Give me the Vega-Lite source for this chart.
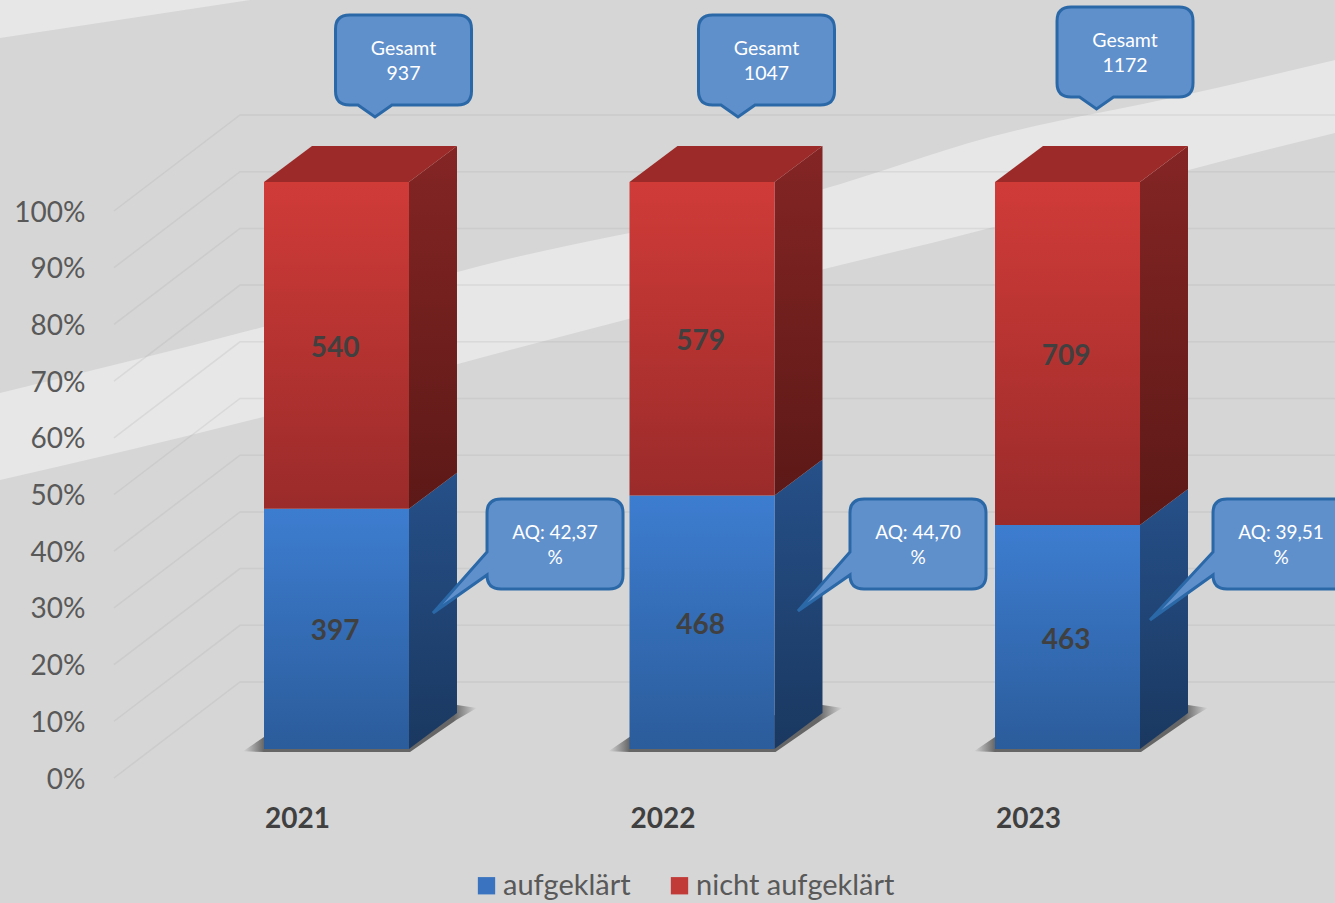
{
"$schema":"https://vega.github.io/schema/vega-lite/v6.json",
"width":1335,"height":903,"autosize":{"type":"none"},"padding":0,
"background":"#d6d6d6",
"config":{"view":{"stroke":null},"font":"Lato"},
"datasets":{
"segments":[
{"year":2021,"series":"aufgeklärt","value":397,"pos":2021.1943,"low":21.19},
{"year":2021,"series":"nicht aufgeklärt","value":540,"pos":2021.1943,"low":71.18},
{"year":2022,"series":"aufgeklärt","value":468,"pos":2022.1943,"low":22.35},
{"year":2022,"series":"nicht aufgeklärt","value":579,"pos":2022.1943,"low":72.35},
{"year":2023,"series":"aufgeklärt","value":463,"pos":2023.1943,"low":19.75},
{"year":2023,"series":"nicht aufgeklärt","value":709,"pos":2023.1943,"low":69.75}
],
"front":[
{"year":2021,"series":"aufgeklärt","pos":2021,"low":0,"high":42.37},
{"year":2021,"series":"aufgeklärt","pos":2021.3967,"low":0,"high":42.37},
{"year":2021,"series":"nicht aufgeklärt","pos":2021,"low":42.37,"high":100},
{"year":2021,"series":"nicht aufgeklärt","pos":2021.3967,"low":42.37,"high":100},
{"year":2022,"series":"aufgeklärt","pos":2022,"low":0,"high":44.7},
{"year":2022,"series":"aufgeklärt","pos":2022.3967,"low":0,"high":44.7},
{"year":2022,"series":"nicht aufgeklärt","pos":2022,"low":44.7,"high":100},
{"year":2022,"series":"nicht aufgeklärt","pos":2022.3967,"low":44.7,"high":100},
{"year":2023,"series":"aufgeklärt","pos":2023,"low":0,"high":39.51},
{"year":2023,"series":"aufgeklärt","pos":2023.3967,"low":0,"high":39.51},
{"year":2023,"series":"nicht aufgeklärt","pos":2023,"low":39.51,"high":100},
{"year":2023,"series":"nicht aufgeklärt","pos":2023.3967,"low":39.51,"high":100}
],
"side":[
{"year":2021,"series":"aufgeklärt","pos":2021.3967,"low":0,"high":42.37},
{"year":2021,"series":"aufgeklärt","pos":2021.528,"low":6.35,"high":48.72},
{"year":2021,"series":"nicht aufgeklärt","pos":2021.3967,"low":42.37,"high":100},
{"year":2021,"series":"nicht aufgeklärt","pos":2021.528,"low":48.72,"high":106.35},
{"year":2022,"series":"aufgeklärt","pos":2022.3967,"low":0,"high":44.7},
{"year":2022,"series":"aufgeklärt","pos":2022.528,"low":6.35,"high":51.05},
{"year":2022,"series":"nicht aufgeklärt","pos":2022.3967,"low":44.7,"high":100},
{"year":2022,"series":"nicht aufgeklärt","pos":2022.528,"low":51.05,"high":106.35},
{"year":2023,"series":"aufgeklärt","pos":2023.3967,"low":0,"high":39.51},
{"year":2023,"series":"aufgeklärt","pos":2023.528,"low":6.35,"high":45.86},
{"year":2023,"series":"nicht aufgeklärt","pos":2023.3967,"low":39.51,"high":100},
{"year":2023,"series":"nicht aufgeklärt","pos":2023.528,"low":45.86,"high":106.35}
],
"top":[
{"year":2021,"pos":2021,"low":100,"high":100},
{"year":2021,"pos":2021.1313,"low":100,"high":106.35},
{"year":2021,"pos":2021.3967,"low":100,"high":106.35},
{"year":2021,"pos":2021.528,"low":106.35,"high":106.35},
{"year":2022,"pos":2022,"low":100,"high":100},
{"year":2022,"pos":2022.1313,"low":100,"high":106.35},
{"year":2022,"pos":2022.3967,"low":100,"high":106.35},
{"year":2022,"pos":2022.528,"low":106.35,"high":106.35},
{"year":2023,"pos":2023,"low":100,"high":100},
{"year":2023,"pos":2023.1313,"low":100,"high":106.35},
{"year":2023,"pos":2023.3967,"low":100,"high":106.35},
{"year":2023,"pos":2023.528,"low":106.35,"high":106.35}
],
"shadow":[
{"year":2021,"pos":2020.9425,"low":-0.4,"high":-0.4},
{"year":2021,"pos":2021,"low":-0.55,"high":2.12},
{"year":2021,"pos":2021.3995,"low":-0.55,"high":6},
{"year":2021,"pos":2021.528,"low":5.2,"high":7.76},
{"year":2021,"pos":2021.5828,"low":7.23,"high":7.23},
{"year":2022,"pos":2021.9425,"low":-0.4,"high":-0.4},
{"year":2022,"pos":2022,"low":-0.55,"high":2.12},
{"year":2022,"pos":2022.3995,"low":-0.55,"high":6},
{"year":2022,"pos":2022.528,"low":5.2,"high":7.76},
{"year":2022,"pos":2022.5828,"low":7.23,"high":7.23},
{"year":2023,"pos":2022.9425,"low":-0.4,"high":-0.4},
{"year":2023,"pos":2023,"low":-0.55,"high":2.12},
{"year":2023,"pos":2023.3995,"low":-0.55,"high":6},
{"year":2023,"pos":2023.528,"low":5.2,"high":7.76},
{"year":2023,"pos":2023.5828,"low":7.23,"high":7.23}
],
"bands":[
{"band":"a","pos":2020.2777,"low":47.44,"high":62.79},
{"band":"a","pos":2020.9973,"low":58.55,"high":74.43},
{"band":"a","pos":2021.591,"low":68.96,"high":85.19},
{"band":"a","pos":2022.5212,"low":84.48,"high":98.59},
{"band":"a","pos":2022.9863,"low":91.89,"high":107.94},
{"band":"a","pos":2023.5198,"low":101.94,"high":115.34},
{"band":"a","pos":2023.9302,"low":108.64,"high":121.52},
{"band":"b","pos":2020.2777,"low":125.4,"high":132.1},
{"band":"b","pos":2020.9617,"low":132.1,"high":132.1}
],
"grid":[
{"grid":0,"pos":2020.5896,"low":-5.11},{"grid":0,"pos":2020.9343,"low":11.82},{"grid":0,"pos":2023.9302,"low":11.82},
{"grid":10,"pos":2020.5896,"low":4.89},{"grid":10,"pos":2020.9343,"low":21.82},{"grid":10,"pos":2023.9302,"low":21.82},
{"grid":20,"pos":2020.5896,"low":14.89},{"grid":20,"pos":2020.9343,"low":31.82},{"grid":20,"pos":2023.9302,"low":31.82},
{"grid":30,"pos":2020.5896,"low":24.89},{"grid":30,"pos":2020.9343,"low":41.82},{"grid":30,"pos":2023.9302,"low":41.82},
{"grid":40,"pos":2020.5896,"low":34.89},{"grid":40,"pos":2020.9343,"low":51.82},{"grid":40,"pos":2023.9302,"low":51.82},
{"grid":50,"pos":2020.5896,"low":44.89},{"grid":50,"pos":2020.9343,"low":61.82},{"grid":50,"pos":2023.9302,"low":61.82},
{"grid":60,"pos":2020.5896,"low":54.89},{"grid":60,"pos":2020.9343,"low":71.82},{"grid":60,"pos":2023.9302,"low":71.82},
{"grid":70,"pos":2020.5896,"low":64.89},{"grid":70,"pos":2020.9343,"low":81.82},{"grid":70,"pos":2023.9302,"low":81.82},
{"grid":80,"pos":2020.5896,"low":74.89},{"grid":80,"pos":2020.9343,"low":91.82},{"grid":80,"pos":2023.9302,"low":91.82},
{"grid":90,"pos":2020.5896,"low":84.89},{"grid":90,"pos":2020.9343,"low":101.82},{"grid":90,"pos":2023.9302,"low":101.82},
{"grid":100,"pos":2020.5896,"low":94.89},{"grid":100,"pos":2020.9343,"low":111.82},{"grid":100,"pos":2023.9302,"low":111.82}
],
"gesamt":[
{"year":2021,"pos":2021.3817,"low":121.52,"label":"Gesamt\n937"},
{"year":2022,"pos":2022.3748,"low":121.52,"label":"Gesamt\n1047"},
{"year":2023,"pos":2023.3557,"low":122.93,"label":"Gesamt\n1172"}
],
"aq":[
{"year":2021,"pos":2021.7962,"low":36.16,"label":"AQ: 42,37\n%"},
{"year":2022,"pos":2022.7893,"low":36.16,"label":"AQ: 44,70\n%"},
{"year":2023,"pos":2023.7825,"low":36.16,"label":"AQ: 39,51\n%"}
]
},
"encoding":{
"x":{"field":"pos","type":"quantitative","scale":{"domain":[2020.2777,2023.9302],"nice":false,"zero":false},
 "axis":{"title":null,"values":[2021,2022,2023],"format":"d","labelOffset":33,"offset":-84,"ticks":false,"domain":false,"grid":false,"labelFontSize":28,"labelFontWeight":"bold","labelColor":"#404040","labelPadding":0,"labelBaseline":"middle","labelFlush":false,"labelOverlap":false,"labelFont":"Lato","zindex":1}},
"y":{"field":"low","type":"quantitative","stack":null,"scale":{"domain":[-27.16,132.1],"nice":false,"zero":false},
 "axis":{"title":null,"values":[0,10,20,30,40,50,60,70,80,90,100],"labelExpr":"datum.value+'%'","labelOffset":31,"offset":-85,"ticks":false,"domain":false,"grid":false,"labelFontSize":28,"labelColor":"#595959","labelPadding":0,"labelFlush":false,"labelOverlap":false,"labelFont":"Lato","zindex":1}}
},
"layer":[
{"data":{"name":"bands"},"mark":{"type":"area","color":"#e7e7e7","orient":"vertical","interpolate":"monotone"},"encoding":{"y2":{"field":"high"},"detail":{"field":"band"}}},
{"data":{"name":"grid"},"mark":{"type":"line","color":"#a8a8a8","opacity":0.22,"strokeWidth":1.5},"encoding":{"detail":{"field":"grid"}}},
{"data":{"name":"shadow"},"mark":{"type":"area","orient":"vertical","color":{"gradient":"linear","x1":0,"y1":0,"x2":1,"y2":0,"stops":[{"offset":0,"color":"#d6d6d6"},{"offset":0.09,"color":"#666666"},{"offset":0.9,"color":"#666666"},{"offset":1,"color":"#d6d6d6"}]}},"encoding":{"y2":{"field":"high"},"detail":{"field":"year"}}},
{"data":{"name":"segments"},"mark":{"type":"point","shape":"square","filled":true,"size":100,"opacity":1},
 "encoding":{"color":{"field":"series","type":"nominal","scale":{"domain":["aufgeklärt","nicht aufgeklärt"],"range":["#3a74c0","#c23a38"]},
 "legend":{"orient":"none","legendX":472,"legendY":871,"direction":"horizontal","columns":2,"title":null,"symbolType":"square","symbolSize":300,"labelFontSize":29,"labelLimit":400,"labelColor":"#595959","labelFont":"Lato","columnPadding":34,"labelOffset":2,"symbolOpacity":1}}}},
{"data":{"name":"side"},"transform":[{"filter":"datum.series==='aufgeklärt'"}],"mark":{"type":"area","orient":"vertical","color":{"gradient":"linear","x1":0,"y1":0,"x2":0,"y2":1,"stops":[{"offset":0,"color":"#265089"},{"offset":1,"color":"#1a3860"}]}},"encoding":{"y2":{"field":"high"},"detail":{"field":"year"}}},
{"data":{"name":"side"},"transform":[{"filter":"datum.series!=='aufgeklärt'"}],"mark":{"type":"area","orient":"vertical","color":{"gradient":"linear","x1":0,"y1":0,"x2":0,"y2":1,"stops":[{"offset":0,"color":"#842524"},{"offset":1,"color":"#5c1917"}]}},"encoding":{"y2":{"field":"high"},"detail":{"field":"year"}}},
{"data":{"name":"top"},"mark":{"type":"area","orient":"vertical","color":"#9b2a29"},"encoding":{"y2":{"field":"high"},"detail":{"field":"year"}}},
{"data":{"name":"front"},"transform":[{"filter":"datum.series==='aufgeklärt'"}],"mark":{"type":"area","orient":"vertical","color":{"gradient":"linear","x1":0,"y1":0,"x2":0,"y2":1,"stops":[{"offset":0,"color":"#3d7dd0"},{"offset":1,"color":"#2b5c9b"}]}},"encoding":{"y2":{"field":"high"},"detail":{"field":"year"}}},
{"data":{"name":"front"},"transform":[{"filter":"datum.series!=='aufgeklärt'"}],"mark":{"type":"area","orient":"vertical","color":{"gradient":"linear","x1":0,"y1":0,"x2":0,"y2":1,"stops":[{"offset":0,"color":"#d03b38"},{"offset":1,"color":"#9a2b2a"}]}},"encoding":{"y2":{"field":"high"},"detail":{"field":"year"}}},
{"data":{"name":"segments"},"mark":{"type":"text","font":"Lato","fontWeight":"bold","fontSize":28,"color":"#404040","baseline":"middle","dy":3.5},"encoding":{"text":{"field":"value","type":"quantitative"}}},
{"data":{"name":"gesamt"},"mark":{"type":"point","filled":true,"size":4,"opacity":1,"fill":"#6090cc","stroke":"#2a68a8","strokeWidth":3,"shape":"M-54,-45H54Q68,-45 68,-31V31Q68,45 54,45H-11.5L-28.5,57L-45.5,45H-54Q-68,45 -68,31V-31Q-68,-45 -54,-45Z"}},
{"data":{"name":"aq"},"mark":{"type":"point","filled":true,"size":4,"opacity":1,"fill":"#6090cc","stroke":"#2a68a8","strokeWidth":3,"clip":true},
 "encoding":{"shape":{"field":"year","type":"nominal","legend":null,"scale":{"domain":[2021,2022,2023],"range":["M-54,-45H54Q68,-45 68,-31V31Q68,45 54,45H-54Q-68,45 -68,31L-122,69L-68,8V-31Q-68,-45 -54,-45Z","M-54,-45H54Q68,-45 68,-31V31Q68,45 54,45H-54Q-68,45 -68,31L-120,67L-68,8V-31Q-68,-45 -54,-45Z","M-54,-45H54Q68,-45 68,-31V31Q68,45 54,45H-54Q-68,45 -68,31L-131,76L-68,8V-31Q-68,-45 -54,-45Z"]}}}},
{"data":{"name":"gesamt"},"mark":{"type":"text","font":"Lato","fontSize":19.5,"color":"#ffffff","baseline":"middle","lineBreak":"\n","lineHeight":25,"dy":-10.5},"encoding":{"text":{"field":"label"}}},
{"data":{"name":"aq"},"mark":{"type":"text","font":"Lato","fontSize":19,"color":"#ffffff","baseline":"middle","lineBreak":"\n","lineHeight":25,"dy":-10.5},"encoding":{"text":{"field":"label"}}}
]
}
